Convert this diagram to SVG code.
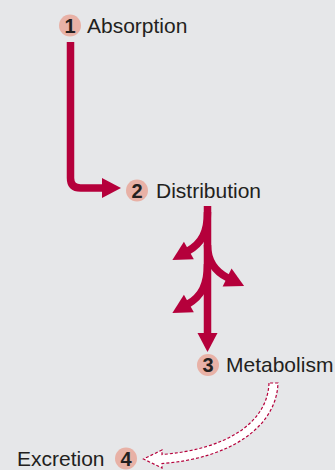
<svg xmlns="http://www.w3.org/2000/svg" width="335" height="470" viewBox="0 0 335 470">
<style>
.lbl{font-family:"Liberation Sans",Arial,sans-serif;font-size:21px;fill:#231f20}
.num{font-family:"Liberation Sans",Arial,sans-serif;font-size:20px;font-weight:bold;fill:#231f20;text-anchor:middle}
.badge{fill:#e8b1a6}
.shaft{fill:none;stroke:#b5003b;stroke-width:7.5}
.hollow{fill:#ffffff;stroke:#b5003b;stroke-width:1.2;stroke-dasharray:3 2}
</style>
<defs>
<marker id="ah" markerUnits="userSpaceOnUse" markerWidth="20" markerHeight="22" refX="1" refY="10" orient="auto" viewBox="0 0 20 20" overflow="visible">
<path d="M0,0 L19,10 L0,20 Z" fill="#b5003b"/>
</marker>
</defs>
<rect width="335" height="470" fill="#e6e7e9"/>
<g id="connectors">
<path class="shaft" d="M70.5,42 V178 Q70.5,188 80.5,188 H103" marker-end="url(#ah)"/>
<path class="shaft" d="M207.5,206 V334" marker-end="url(#ah)"/>
<path class="shaft" d="M207.5,212 C207.5,232 202,243 188,251" marker-end="url(#ah)"/>
<path class="shaft" d="M207.5,245 C207.5,262 216,272 228,278" marker-end="url(#ah)"/>
<path class="shaft" d="M207.5,264 C207.5,284 202,296 188,304" marker-end="url(#ah)"/>
<path class="hollow" d="M269,383 C267.5,423 226,449.5 162,454.5 L162,450 L143.5,459 L162,468 L162,463.5 C230,458.5 276.5,427 278,383 Z"/>
</g>
<g id="absorption">
<circle class="badge" cx="70" cy="25.5" r="11"/>
<text class="num" x="70" y="32.5">1</text>
<text class="lbl" x="87" y="32.5">Absorption</text>
</g>
<g id="distribution">
<circle class="badge" cx="137" cy="190.5" r="11"/>
<text class="num" x="137" y="197.5">2</text>
<text class="lbl" x="156" y="197.5">Distribution</text>
</g>
<g id="metabolism">
<circle class="badge" cx="208" cy="365" r="11"/>
<text class="num" x="208" y="372">3</text>
<text class="lbl" x="226" y="372">Metabolism</text>
</g>
<g id="excretion">
<circle class="badge" cx="126" cy="458.5" r="11"/>
<text class="num" x="126" y="465.5">4</text>
<text class="lbl" x="17" y="466">Excretion</text>
</g>
</svg>
